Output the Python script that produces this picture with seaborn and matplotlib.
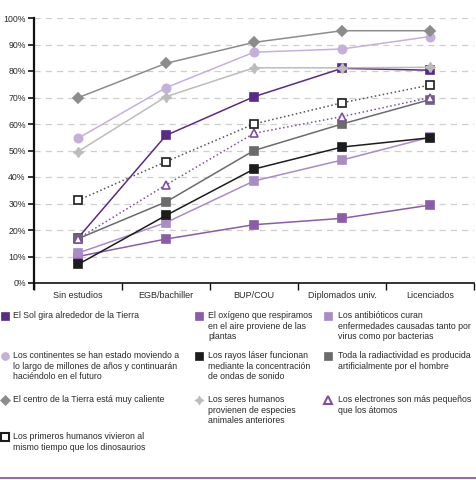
import matplotlib
matplotlib.use('Agg')
import matplotlib.pyplot as plt
from matplotlib.lines import Line2D
import seaborn as sns
import pandas as pd

# Categories (education level)
niveles = ['Sin estudios', 'EGB/bachiller', 'BUP/COU', 'Diplomados univ.', 'Licenciados']

# Percentage of correct answers per statement
sol = [17, 55.7, 70.3, 81, 80.3]
oxigeno = [10, 16.6, 22, 24.4, 29.4]
antibioticos = [11.3, 22.8, 38.5, 46.4, 55]
continentes = [54.6, 73.7, 87.1, 88.3, 93]
laser = [7, 25.5, 43, 51.3, 54.8]
radiactividad = [16.7, 30.6, 50, 60, 69.2]
centro = [69.9, 82.9, 90.8, 95.2, 95.2]
seres = [49.6, 70.3, 81.2, 81.2, 81.4]
electrones = [16.7, 37, 56.5, 62.8, 70]
primeros = [31.2, 45.8, 60, 68, 74.7]

etiquetas = [
    'El Sol gira alrededor de la Tierra',
    'El oxígeno que respiramos\nen el aire proviene de las\nplantas',
    'Los antibióticos curan\nenfermedades causadas tanto por\nvirus como por bacterias',
    'Los continentes se han estado moviendo a\nlo largo de millones de años y continuarán\nhaciéndolo en el futuro',
    'Los rayos láser funcionan\nmediante la concentración\nde ondas de sonido',
    'Toda la radiactividad es producida\nartificialmente por el hombre',
    'El centro de la Tierra está muy caliente',
    'Los seres humanos\nprovienen de especies\nanimales anteriores',
    'Los electrones son más pequeños\nque los átomos',
    'Los primeros humanos vivieron al\nmismo tiempo que los dinosaurios',
]
series = [sol, oxigeno, antibioticos, continentes, laser, radiactividad,
          centro, seres, electrones, primeros]

# style per series: color, marker, linestyle, face color, marker size
estilos = [
    dict(color='#5b2a86', marker='s', ls='-', mfc='#5b2a86', ms=6),
    dict(color='#8a5caa', marker='s', ls='-', mfc='#8a5caa', ms=6),
    dict(color='#a98bc6', marker='s', ls='-', mfc='#a98bc6', ms=6),
    dict(color='#c5b0db', marker='o', ls='-', mfc='#c5b0db', ms=6),
    dict(color='#1c1c1c', marker='s', ls='-', mfc='#1c1c1c', ms=6),
    dict(color='#6b6b6b', marker='s', ls='-', mfc='#6b6b6b', ms=6),
    dict(color='#8c8c8c', marker='D', ls='-', mfc='#8c8c8c', ms=5.5),
    dict(color='#bcbcbc', marker=(4, 1, 0), ls='-', mfc='#bcbcbc', ms=7),
    dict(color='#7d50a2', marker='^', ls=':', mfc='white', ms=6),
    dict(color='#1c1c1c', marker='s', ls=':', mfc='white', ms=5.5),
]
lineas = ['#5b2a86', '#8a5caa', '#a98bc6', '#c5b0db', '#1c1c1c', '#6b6b6b',
          '#8c8c8c', '#bcbcbc', '#7d50a2', '#555555']

sns.set_style('white')
plt.rcParams['font.family'] = ['Liberation Sans', 'DejaVu Sans']

W, H = 477, 480
fig = plt.figure(figsize=(W / 100, H / 100), dpi=100)
ax = fig.add_axes([34 / W, 1 - 283 / H, (474 - 34) / W, (283 - 18) / H])

for vals, st, lc in zip(series, estilos, lineas):
    df = pd.DataFrame({'nivel': niveles, 'valor': vals})
    sns.lineplot(data=df, x='nivel', y='valor', ax=ax, color=lc,
                 linestyle=st['ls'], linewidth=1.1, marker=st['marker'],
                 markersize=st['ms'], markerfacecolor=st['mfc'],
                 markeredgecolor=st['color'], markeredgewidth=1.2,
                 sort=False, zorder=3)

ax.set_xlim(-0.5, 4.5)
ax.set_ylim(0, 100)
ax.set_xlabel('')
ax.set_ylabel('')

# y axis
ax.set_yticks(range(0, 101, 10))
ax.set_yticklabels([f'{v}%' for v in range(0, 101, 10)])
ax.tick_params(axis='y', length=4, width=1.2, color='#111111', pad=2,
               labelsize=6.3, labelcolor='#2a2a2a', left=True)
ax.yaxis.grid(True, color='#cfcfcf', linestyle=(0, (5, 4)), linewidth=0.9)
ax.set_axisbelow(True)

# x axis: tick marks at band boundaries, labels at band centres
ax.set_xticks([-0.5, 0.5, 1.5, 2.5, 3.5, 4.5])
ax.set_xticklabels([])
ax.set_xticks(range(len(niveles)), minor=True)
ax.set_xticklabels(niveles, minor=True)
ax.tick_params(axis='x', which='major', length=5, width=1, color='#111111',
               bottom=True, direction='out')
ax.tick_params(axis='x', which='minor', length=0, pad=6, labelsize=6.5,
               labelcolor='#2a2a2a')

for s in ['top', 'right']:
    ax.spines[s].set_visible(False)
ax.spines['left'].set_color('#111111')
ax.spines['left'].set_linewidth(1.6)
ax.spines['left'].set_bounds(-2.3, 100)
ax.spines['bottom'].set_color('#111111')
ax.spines['bottom'].set_linewidth(1.2)

# legend drawn by hand in a 3 column grid
col_marker = [5.5, 199.5, 328.5]
col_text = [13, 208, 338]
filas = [316, 356, 400, 437]
for i, (lab, st) in enumerate(zip(etiquetas, estilos)):
    r, c = divmod(i, 3)
    y = filas[r]
    fig.add_artist(Line2D([col_marker[c] / W], [1 - y / H], transform=fig.transFigure,
                          marker=st['marker'], markersize=st['ms'] - 0.3,
                          markerfacecolor=st['mfc'], markeredgecolor=st['color'],
                          markeredgewidth=1.5 if st['mfc'] == 'white' else 0.5,
                          linestyle='none'))
    fig.text(col_text[c] / W, 1 - (y - 5) / H, lab, fontsize=6.3, color='#2a2a2a',
             va='top', ha='left', linespacing=1.22)

fig.add_artist(Line2D([0, 1], [1 - 478 / H, 1 - 478 / H], transform=fig.transFigure,
                      color='#7d50a2', linewidth=1.2))

fig.savefig('out.png', dpi=100)
